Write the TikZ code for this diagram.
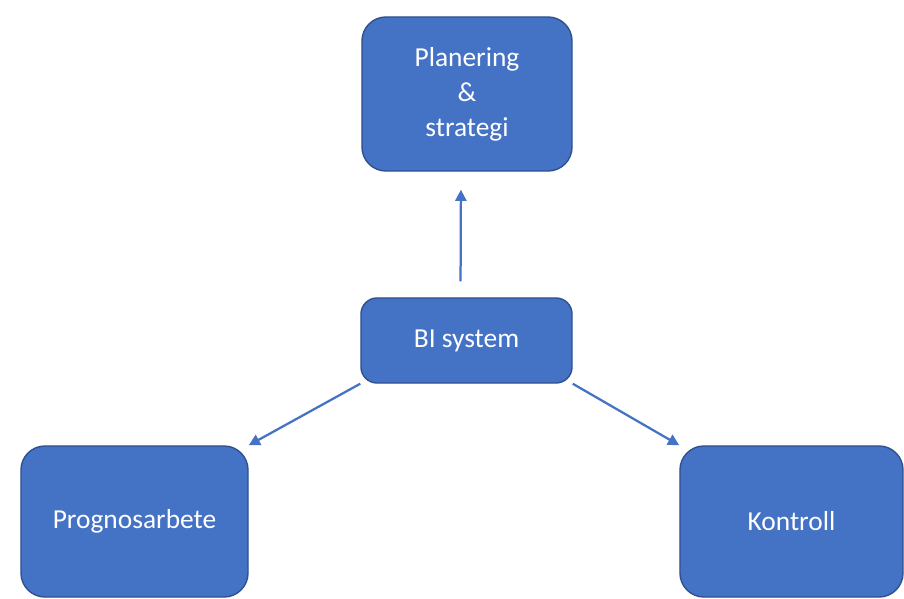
\documentclass[tikz,border=0pt]{standalone}
\usepackage{fontspec}
\setmainfont{Carlito}
\usetikzlibrary{arrows.meta}
\definecolor{boxblue}{HTML}{4472C4}
\definecolor{boxline}{HTML}{2F528F}

\begin{document}
\begin{tikzpicture}[
  x=0.025cm, y=-0.025cm,
  box/.style={
    draw=boxline, fill=boxblue, line width=1pt,
    rounded corners=0.6cm, text=white, align=center,
    font=\fontsize{19.5}{25}\selectfont,
  },
  arr/.style={
    draw=boxblue, line width=1.6pt,
    -{Triangle[length=8pt,width=8pt]},
  }]
  \useasboundingbox (0,0) rectangle (904,599);
  \node [box, minimum width=5.25cm, minimum height=3.85cm] (plan) at (467,94) {Planering\\\&\\strategi};
  \node [box, rounded corners=0.4cm, minimum width=5.275cm, minimum height=2.125cm] (bi) at (466.5,340.5) {BI system};
  \node [box, minimum width=5.675cm, minimum height=3.775cm] (prog) at (134.5,521.5) {Prognosarbete};
  \node [box, minimum width=5.575cm, minimum height=3.775cm] (kont) at (791.5,521.5) {Kontroll};
  \draw [arr, shorten <=0.4cm, shorten >=0.45cm] ([xshift=-0.15cm]bi.north) -- ([xshift=-0.15cm]plan.south);
  \draw [arr] (bi.south west) -- (prog.north east);
  \draw [arr] (bi.south east) -- (kont.north west);
\end{tikzpicture}
\end{document}
